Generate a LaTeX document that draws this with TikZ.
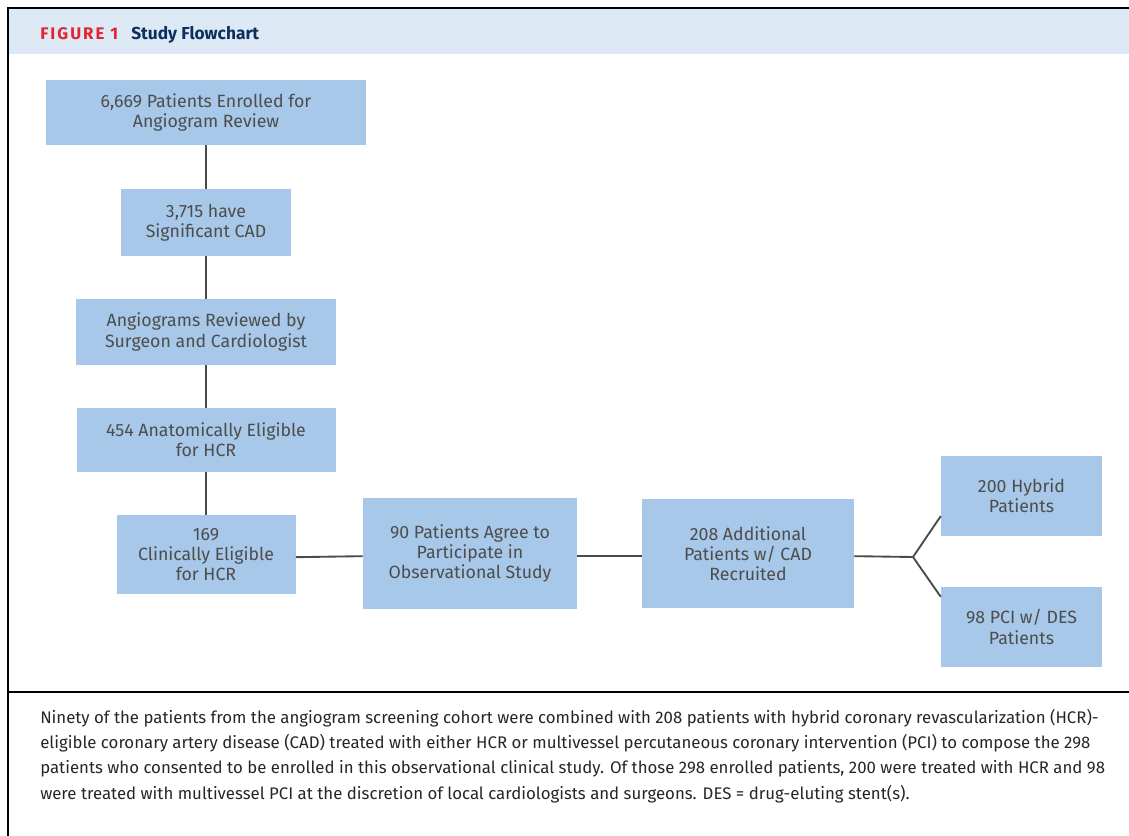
\documentclass[tikz,border=0pt]{standalone}
\usepackage{fontspec}
\setmainfont{Fira Sans}
\usetikzlibrary{calc}
\definecolor{boxblue}{HTML}{A7C8E8}
\definecolor{headblue}{HTML}{DDEAF6}
\definecolor{figred}{HTML}{E2232E}
\definecolor{titlenavy}{HTML}{0E2F5E}
\definecolor{textgray}{HTML}{4D4D4D}
\definecolor{linegray}{HTML}{4A4A4A}

\begin{document}
\begin{tikzpicture}[x=0.75pt, y=-0.75pt,
		flowbox/.style={fill=boxblue, text=textgray, align=center, inner sep=0pt,
			font=\fontsize{13.3}{15.2}\selectfont},
		boxsize/.style 2 args={minimum width=#1*0.75pt, minimum height=#2*0.75pt},
		link/.style={draw=linegray, line width=1.4pt}]
		%%%%% START %%%%%
		\useasboundingbox (0,0) rectangle (1129,836);
		
		% header band and frame
		\fill[headblue] (9,9) rectangle (1129,54);
		\draw[line width=1.6pt] (8,836) -- (8,8) -- (1129,8);
		\draw[line width=1.6pt] (8,692) -- (1129,692);
		
		\node[anchor=base west, inner sep=0pt, text=figred, font=\fontsize{12.6}{13}\bfseries\addfontfeatures{LetterSpace=12}] (figlabel) at (40,39) {FIGURE 1};
		\node[anchor=base west, inner sep=0pt, text=titlenavy, font=\fontsize{13}{14}\bfseries] (figtitle) at (131,39) {Study Flowchart};
		
		% boxes of the flowchart
		\node[flowbox, boxsize={320}{65}] (enrolled) at (206,112.5) {6,669 Patients Enrolled for\\Angiogram Review};
		\node[flowbox, boxsize={170}{67}] (signif) at (206,222.5) {3,715 have\\Significant CAD};
		\node[flowbox, boxsize={260}{66}] (reviewed) at (206,332) {Angiograms Reviewed by\\Surgeon and Cardiologist};
		\node[flowbox, boxsize={259}{64}] (anatom) at (206,440) {454 Anatomically Eligible\\for HCR};
		\node[flowbox, boxsize={179}{79}] (clinic) at (206,554.5) {169\\Clinically Eligible\\for HCR};
		\node[flowbox, boxsize={214}{111}] (agree) at (470,553.5) {90 Patients Agree to\\Participate in\\Observational Study};
		\node[flowbox, boxsize={212}{109}] (added) at (748,553.5) {208 Additional\\Patients w/ CAD\\Recruited};
		\node[flowbox, boxsize={161}{80}] (hybrid) at (1021.5,496) {200 Hybrid\\Patients};
		\node[flowbox, boxsize={161}{80}] (pcides) at (1021.5,627) {98 PCI w/ DES\\Patients};
		
		% connectors
		\draw[link] (enrolled) -- (signif);
		\draw[link] (signif) -- (reviewed);
		\draw[link] (reviewed) -- (anatom);
		\draw[link] (anatom) -- (clinic);
		\draw[link] ([yshift=-2pt]clinic.east) -- ([yshift=-2pt]agree.west);
		\draw[link] ([yshift=-2pt]agree.east) -- ([yshift=-2pt]added.west);
		
		\coordinate (split) at (913,557);
		\draw[link] ([yshift=-2pt]added.east) -- (split);
		\draw[link] (split) -- ($(hybrid.south west)!0.25!(hybrid.north west)$);
		\draw[link] (split) -- ($(pcides.north west)!0.125!(pcides.south west)$);
		
		% caption
		\node[anchor=north west, inner sep=0pt, align=left, text=black!85, font=\fontsize{12.6}{18.9}\selectfont] (caption) at (40,709) {Ninety of the patients from the angiogram screening cohort were combined with 208 patients with hybrid coronary revascularization (HCR)-\\eligible coronary artery disease (CAD) treated with either HCR or multivessel percutaneous coronary intervention (PCI) to compose the 298\\patients who consented to be enrolled in this observational clinical study. Of those 298 enrolled patients, 200 were treated with HCR and 98\\were treated with multivessel PCI at the discretion of local cardiologists and surgeons. DES = drug-eluting stent(s).};
		
		%%%%% END %%%%%
\end{tikzpicture}
\end{document}
